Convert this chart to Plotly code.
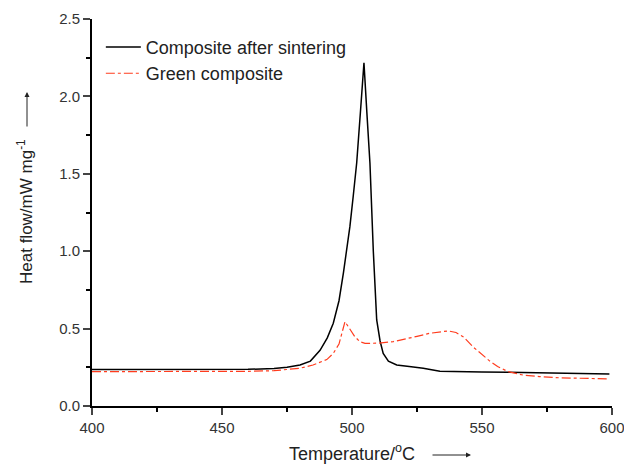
import plotly.graph_objects as go

# Composite after sintering (black)
t_sint = [400, 420, 440, 460, 470, 475, 480, 484, 487.7, 490.5, 492.8, 495, 496.7, 498, 499.2, 500.5, 501.8, 503.2, 504.6,
          505.7, 506.9, 508.2, 509.5, 510.8, 512, 514, 517.2, 522, 527.4, 533.8, 540, 550, 560, 570, 580, 590, 599]
hf_sint = [0.235, 0.235, 0.235, 0.237, 0.242, 0.25, 0.265, 0.29, 0.36, 0.44, 0.535, 0.68, 0.86, 1.0, 1.16, 1.36, 1.57, 1.89, 2.217,
           1.9, 1.57, 1.0, 0.556, 0.42, 0.34, 0.29, 0.265, 0.255, 0.244, 0.225, 0.222, 0.22, 0.218, 0.216, 0.213, 0.21, 0.207]

# Green composite (red dash-dot)
t_green = [400, 420, 440, 460, 470, 475, 480, 485, 490.3, 492.8, 495, 497.3, 499, 501, 503, 505, 506.9, 510, 515.9, 520, 525, 530,
           533.8, 537, 540, 543, 546.7, 550, 553, 556, 560, 565.8, 572, 580, 585, 592, 599]
hf_green = [0.222, 0.222, 0.222, 0.224, 0.228, 0.234, 0.244, 0.265, 0.30, 0.34, 0.40, 0.545, 0.50, 0.45, 0.416, 0.405, 0.405, 0.406, 0.416,
            0.43, 0.45, 0.47, 0.48, 0.485, 0.475, 0.445, 0.38, 0.33, 0.29, 0.255, 0.222, 0.20, 0.19, 0.182, 0.179, 0.177, 0.175]

x_ticks = [400, 450, 500, 550, 600]
y_ticks = [0.0, 0.5, 1.0, 1.5, 2.0, 2.5]
x_title = "Temperature/<sup>o</sup>C"
y_title = "Heat flow/mW mg<sup>-1</sup>"

fig = go.Figure()
fig.add_trace(go.Scatter(x=t_sint, y=hf_sint, mode="lines", name="Composite after sintering",
                         line=dict(color="black", width=1.5)))
fig.add_trace(go.Scatter(x=t_green, y=hf_green, mode="lines", name="Green composite",
                         line=dict(color="#ff3c1e", width=1.2, dash="dashdot")))

font_family = "Liberation Sans, Arial, sans-serif"
L, R, T, B = 92, 12, 19, 61
W, H = 624, 467
PW, PH = W - L - R, H - T - B


def px(x):
    return (x - L) / PW


def py(y):
    return (H - B - y) / PH


fig.update_layout(
    width=W, height=H,
    margin=dict(l=L, r=R, t=T, b=B),
    plot_bgcolor="white", paper_bgcolor="white",
    font=dict(family=font_family, color="#222"),
    showlegend=True,
    legend=dict(x=0.017, y=0.975, xanchor="left", yanchor="top", bgcolor="rgba(0,0,0,0)",
                font=dict(size=18, color="#222"), tracegroupgap=0, itemwidth=35),
    xaxis=dict(range=[400, 600], tickvals=x_ticks, ticks="outside", ticklen=7, tickwidth=2,
               showline=True, linecolor="black", linewidth=2, showgrid=False, zeroline=False,
               tickfont=dict(size=15, color="#333"), automargin=False, ticklabeloverflow="allow",
               minor=dict(dtick=25, tick0=400, ticks="outside", ticklen=4, tickwidth=1.5, tickcolor="black")),
    yaxis=dict(range=[0, 2.5], tickvals=y_ticks, tickformat=".1f", ticks="outside", ticklen=7, tickwidth=2,
               showline=True, linecolor="black", linewidth=2, showgrid=False, zeroline=False,
               tickfont=dict(size=15, color="#333"), automargin=False, ticklabeloverflow="allow",
               minor=dict(dtick=0.25, tick0=0, ticks="outside", ticklen=4, tickwidth=1.5, tickcolor="black")),
)

# axis titles
fig.add_annotation(xref="paper", yref="paper", x=px(352), y=py(452), xanchor="center", yanchor="middle",
                   text=x_title, showarrow=False, font=dict(size=18, color="#222"))
fig.add_annotation(xref="paper", yref="paper", x=px(25), y=py(212), xanchor="center", yanchor="middle",
                   text=y_title, textangle=-90, showarrow=False, font=dict(size=17, color="#222"))

# arrows next to axis titles
fig.add_annotation(xref="paper", yref="paper", x=px(471), y=py(455),
                   ax=-40, ay=0, showarrow=True, arrowhead=2, arrowsize=1, arrowwidth=1, arrowcolor="#222", text="")
fig.add_annotation(xref="paper", yref="paper", x=px(27), y=py(92),
                   ax=0, ay=36, showarrow=True, arrowhead=2, arrowsize=1, arrowwidth=1, arrowcolor="#222", text="")

fig.write_html("out.html")
